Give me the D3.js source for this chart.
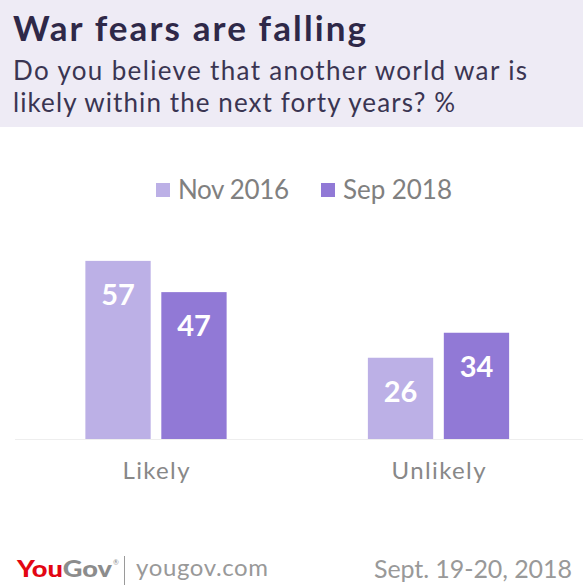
<!DOCTYPE html>
<html>
<head>
<meta charset="utf-8">
<script src="https://cdn.jsdelivr.net/npm/d3@7"></script>
<style>
  body { margin: 0; background: #fff; }
  text { font-family: Lato, "Open Sans", sans-serif; }
</style>
</head>
<body>
<div id="wrapper"></div>
<script>
// data
const categories = ["Likely", "Unlikely"]
const seriesNames = ["Nov 2016", "Sep 2018"]
const nov2016 = [57, 26]
const sep2018 = [47, 34]
const seriesColors = ["#bcb0e6", "#9179d6"]

function drawChart() {
  const width = 583
  const height = 586

  const svg = d3.select("#wrapper")
    .append("svg")
      .attr("width", width)
      .attr("height", height)

  // header band
  svg.append("rect")
    .attr("x", 0).attr("y", 0)
    .attr("width", width).attr("height", 127)
    .attr("fill", "#eeebf5")

  svg.append("text")
    .attr("x", 13).attr("y", 41)
    .attr("font-size", 35)
    .attr("font-weight", 700)
    .attr("fill", "#2e2848")
    .attr("textLength", 353)
    .attr("lengthAdjust", "spacing")
    .text("War fears are falling")

  const subtitle = [
    ["Do you believe that another world war is", 514, 80],
    ["likely within the next forty years? %", 442, 112],
  ]
  svg.selectAll(".subtitle")
    .data(subtitle)
    .enter()
    .append("text")
      .attr("class", "subtitle")
      .attr("x", 13)
      .attr("y", d => d[2])
      .attr("font-size", 26)
      .attr("fill", "#3a3552")
      .attr("textLength", d => d[1])
      .attr("lengthAdjust", "spacing")
      .text(d => d[0])

  // legend
  const legendX = [156, 321]
  const legendW = [111, 109]
  const legend = svg.selectAll(".legend")
    .data(seriesNames)
    .enter()
    .append("g")
      .attr("class", "legend")
      .attr("transform", (d, i) => `translate(${legendX[i]},183)`)
  legend.append("rect")
    .attr("width", 14).attr("height", 14)
    .attr("fill", (d, i) => seriesColors[i])
  legend.append("text")
    .attr("x", 22).attr("y", 16)
    .attr("font-size", 26)
    .attr("fill", "#808080")
    .attr("textLength", (d, i) => legendW[i])
    .attr("lengthAdjust", "spacing")
    .text(d => d)

  // scales
  const baseline = 439
  const xScaler = d3.scaleBand()
    .domain(categories)
    .range([14.75, 579.75])
    .paddingInner(0.5)
    .paddingOuter(0.25)

  const xInner = d3.scaleBand()
    .domain(seriesNames)
    .range([0, xScaler.bandwidth()])
    .paddingInner(0.14)

  const yScaler = d3.scaleLinear()
    .domain([0, 64])
    .range([baseline, 239])

  // baseline rule
  svg.append("line")
    .attr("x1", 15).attr("x2", width)
    .attr("y1", baseline + 0.5).attr("y2", baseline + 0.5)
    .attr("stroke", "#eeeeee")
    .attr("stroke-width", 1)

  const rows = []
  categories.forEach((c, i) => {
    rows.push({ cat: c, series: seriesNames[0], value: nov2016[i], color: seriesColors[0] })
    rows.push({ cat: c, series: seriesNames[1], value: sep2018[i], color: seriesColors[1] })
  })

  const barGroups = svg.append("g")
    .selectAll("g")
    .data(rows)
    .enter()
    .append("g")

  barGroups.append("rect")
    .attr("x", d => xScaler(d.cat) + xInner(d.series))
    .attr("y", d => yScaler(d.value))
    .attr("width", xInner.bandwidth())
    .attr("height", d => baseline - yScaler(d.value))
    .attr("fill", d => d.color)

  barGroups.append("text")
    .attr("x", d => xScaler(d.cat) + xInner(d.series) + xInner.bandwidth() / 2)
    .attr("y", d => yScaler(d.value) + 44)
    .attr("text-anchor", "middle")
    .attr("font-size", 29)
    .attr("font-weight", 700)
    .attr("fill", "#ffffff")
    .text(d => d.value)

  // category labels
  const catW = [67, 94]
  svg.selectAll(".cat")
    .data(categories)
    .enter()
    .append("text")
      .attr("class", "cat")
      .attr("x", d => xScaler(d) + xScaler.bandwidth() / 2)
      .attr("y", 479)
      .attr("text-anchor", "middle")
      .attr("font-size", 24)
      .attr("fill", "#888888")
      .attr("textLength", (d, i) => catW[i])
      .attr("lengthAdjust", "spacing")
      .text(d => d)

  // footer
  const logo = svg.append("text")
    .attr("x", 17).attr("y", 577)
    .attr("font-size", 22)
    .attr("font-weight", 900)
    .attr("textLength", 95)
    .attr("lengthAdjust", "spacingAndGlyphs")
  logo.append("tspan").attr("fill", "#e30613").text("You")
  logo.append("tspan").attr("fill", "#8c8c8c").text("Gov")

  svg.append("text")
    .attr("x", 113).attr("y", 565)
    .attr("font-size", 7)
    .attr("fill", "#8c8c8c")
    .text("®")

  svg.append("line")
    .attr("x1", 124.5).attr("x2", 124.5)
    .attr("y1", 556).attr("y2", 585)
    .attr("stroke", "#9a9a9a")
    .attr("stroke-width", 1)

  svg.append("text")
    .attr("x", 136).attr("y", 576)
    .attr("font-size", 24)
    .attr("fill", "#999999")
    .attr("textLength", 132)
    .attr("lengthAdjust", "spacing")
    .text("yougov.com")

  svg.append("text")
    .attr("x", 374).attr("y", 578)
    .attr("font-size", 25)
    .attr("fill", "#999999")
    .attr("textLength", 198)
    .attr("lengthAdjust", "spacing")
    .text("Sept. 19-20, 2018")
}

drawChart()
</script>
</body>
</html>
